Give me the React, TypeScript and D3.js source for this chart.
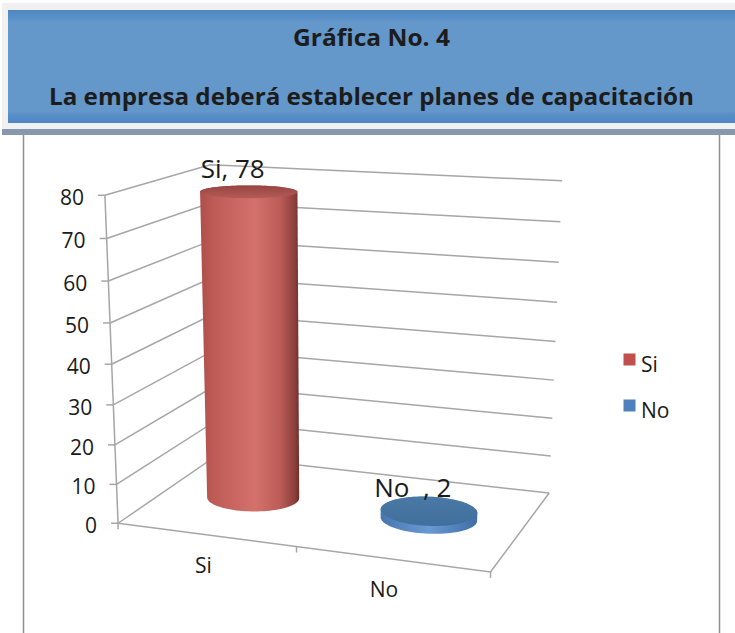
import React from "react";
import * as d3 from "d3";

// chart data
const categories = ["Si", "No  "];
const values = [78, 2];
const legendLabels = ["Si", "No"];
const yTicks = [0, 10, 20, 30, 40, 50, 60, 70, 80];
const titleLines = ["Gráfica No. 4", "La empresa deberá establecer planes de capacitación"];

const W = 735;
const H = 633;
const FONT = "'Open Sans', 'DejaVu Sans', sans-serif";

// 3D frame: world x in band units (0..2), y as fraction of value axis, z depth (front 0 .. back DEPTH)
const DEPTH = 1.4;
const RADIUS = 0.255;
// where the frame corners land on screen (layout calibration)
const frameRefs: number[][] = [
  [0, 1, 0, 105, 195],
  [0, 0, 0, 118, 523],
  [0, 1, DEPTH, 210, 165],
  [2, 1, DEPTH, 562, 181],
  [2, 0.5, DEPTH, 556, 341],
  [2, 0, DEPTH, 549, 493],
  [2, 0, 0, 490, 572],
  [1, 0, 0, 297, 547],
];

// least squares fit of a 3x4 perspective matrix to the frame corners
function solveProjection(refs: number[][]) {
  const A: number[][] = [];
  const b: number[] = [];
  for (const [X, Y, Z, u, v] of refs) {
    A.push([X, Y, Z, 1, 0, 0, 0, 0, -u * X, -u * Y, -u * Z]);
    b.push(u);
    A.push([0, 0, 0, 0, X, Y, Z, 1, -v * X, -v * Y, -v * Z]);
    b.push(v);
  }
  const n = 11;
  const M = d3.range(n).map((i) => {
    const row = new Array(n + 1).fill(0);
    for (let k = 0; k < A.length; k++) {
      for (let j = 0; j < n; j++) row[j] += A[k][i] * A[k][j];
      row[n] += A[k][i] * b[k];
    }
    return row;
  });
  for (let c = 0; c < n; c++) {
    let p = c;
    for (let r = c + 1; r < n; r++) if (Math.abs(M[r][c]) > Math.abs(M[p][c])) p = r;
    [M[c], M[p]] = [M[p], M[c]];
    for (let r = 0; r < n; r++) {
      if (r === c) continue;
      const f = M[r][c] / M[c][c];
      for (let k = c; k <= n; k++) M[r][k] -= f * M[c][k];
    }
  }
  return M.map((row, i) => row[n] / row[i]);
}

const P = solveProjection(frameRefs);
const project = (X: number, Y: number, Z: number): [number, number] => {
  const w = P[8] * X + P[9] * Y + P[10] * Z + 1;
  return [(P[0] * X + P[1] * Y + P[2] * Z + P[3]) / w, (P[4] * X + P[5] * Y + P[6] * Z + P[7]) / w];
};

const xScale = d3.scaleBand<string>().domain(categories).range([0, 2]).padding(0);
const yScale = d3.scaleLinear().domain([0, 80]).range([0, 1]);
const colorScale = d3.scaleOrdinal<string, string>().domain(categories).range(["#c0504d", "#4f81bd"]);

const line = (pts: [number, number][]) => "M" + pts.map((p) => p.join(",")).join("L");
const closed = (pts: [number, number][]) => line(pts) + "Z";

const angles = d3.range(0, 2 * Math.PI, Math.PI / 48);
const ring = (cx: number, cz: number, y: number) =>
  angles.map((a) => project(cx + RADIUS * Math.cos(a), y, cz + RADIUS * Math.sin(a)));

function Cylinder({ cat, value, i }: { cat: string; value: number; i: number }) {
  const cx = xScale(cat)! + xScale.bandwidth() / 2;
  const cz = DEPTH / 2;
  const bottomRing = ring(cx, cz, 0);
  const topRing = ring(cx, cz, yScale(value));
  // silhouette of a cylinder = hull of its two end circles
  const hull = d3.polygonHull([...bottomRing, ...topRing])!;
  return (
    <g>
      <path d={closed(hull)} fill={`url(#body-${i})`} />
      <path d={closed(topRing)} fill={`url(#cap-${i})`} />
    </g>
  );
}

export default function App() {
  const gridColor = "#a6a6a6";
  const [ax0, ay0] = project(0, 0, 0);
  const [ax1, ay1] = project(0, 1, 0);
  const bandEdges = [...categories.map((c) => xScale(c)!), xScale.range()[1]];

  return (
    <svg width={W} height={H} style={{ position: "absolute", left: 0, top: 0, background: "#fff" }} fontFamily={FONT}>
      <defs>
        <linearGradient id="header" x1="0" x2="0" y1="0" y2="1">
          <stop offset="0" stopColor="#4e87c3" />
          <stop offset="0.08" stopColor="#5a90c8" />
          <stop offset="0.1" stopColor="#6497ca" />
          <stop offset="0.9" stopColor="#6497ca" />
          <stop offset="0.92" stopColor="#5a8fc7" />
          <stop offset="1" stopColor="#4e87c3" />
        </linearGradient>
        <linearGradient id="body-0" x1="0" x2="1" y1="0" y2="0">
          <stop offset="0" stopColor="#ad4f4b" />
          <stop offset="0.15" stopColor="#c05c57" />
          <stop offset="0.55" stopColor="#d4716c" />
          <stop offset="0.8" stopColor="#bd5d58" />
          <stop offset="0.95" stopColor="#8e403d" />
          <stop offset="1" stopColor="#6e2f2d" />
        </linearGradient>
        <linearGradient id="cap-0" x1="0" x2="0" y1="0" y2="1">
          <stop offset="0" stopColor="#964542" />
          <stop offset="1" stopColor="#b45b56" />
        </linearGradient>
        <linearGradient id="body-1" x1="0" x2="1" y1="0" y2="0">
          <stop offset="0" stopColor="#4877b0" />
          <stop offset="0.5" stopColor="#6a9ad3" />
          <stop offset="1" stopColor="#3f6ea6" />
        </linearGradient>
        <linearGradient id="cap-1" x1="0" x2="0" y1="0" y2="1">
          <stop offset="0" stopColor="#4a79a6" />
          <stop offset="1" stopColor="#416f9c" />
        </linearGradient>
      </defs>

      {/* panel frame */}
      <line x1={23.5} x2={23.5} y1={134} y2={H} stroke="#8e8e8e" strokeWidth={1.5} />
      <line x1={719.5} x2={719.5} y1={134} y2={H} stroke="#8e8e8e" strokeWidth={1.5} />

      {/* walls: gridlines */}
      {yTicks.map((t) => {
        const y = yScale(t);
        return (
          <path
            key={`grid-${t}`}
            d={line([project(0, y, 0), project(0, y, DEPTH), project(2, y, DEPTH)])}
            fill="none"
            stroke={gridColor}
            strokeWidth={1.5}
          />
        );
      })}

      {/* floor edges */}
      <path d={line([project(0, 0, 0), project(2, 0, 0), project(2, 0, DEPTH)])} fill="none" stroke={gridColor} strokeWidth={1.5} />

      {/* value axis */}
      <line x1={ax0} y1={ay0} x2={ax1} y2={ay1} stroke={gridColor} strokeWidth={1.5} />
      {yTicks.map((t) => {
        const [px, py] = project(0, yScale(t), 0);
        return (
          <g key={`tick-${t}`}>
            <line x1={px - 7} x2={px} y1={py} y2={py} stroke={gridColor} strokeWidth={1.5} />
            <text x={px - 21} y={py + 10} textAnchor="end" fontSize={21} fill="#1a1a1a">
              {t}
            </text>
          </g>
        );
      })}

      {/* category axis */}
      {bandEdges.map((e) => {
        const [px, py] = project(e, 0, 0);
        return <line key={`ct-${e}`} x1={px} x2={px} y1={py} y2={py + 6} stroke={gridColor} strokeWidth={1.5} />;
      })}
      {categories.map((c) => {
        const [px, py] = project(xScale(c)! + xScale.bandwidth() / 2, 0, 0);
        return (
          <text key={`cl-${c}`} x={px - 2} y={py + 38} textAnchor="middle" fontSize={21} fill="#1a1a1a" style={{ whiteSpace: "pre" }}>
            {c}
          </text>
        );
      })}

      {/* bars */}
      {categories.map((c, i) => (
        <Cylinder key={`bar-${c}`} cat={c} value={values[i]} i={i} />
      ))}

      {/* data labels */}
      {categories.map((c, i) => {
        const [px, py] = project(xScale(c)! + xScale.bandwidth() / 2, yScale(values[i]), DEPTH / 2);
        return (
          <text key={`dl-${c}`} x={px - 16} y={py - 14} textAnchor="middle" fontSize={26} fill="#1a1a1a" style={{ whiteSpace: "pre" }}>
            {`${c}, ${values[i]}`}
          </text>
        );
      })}

      {/* legend */}
      {legendLabels.map((l, i) => (
        <g key={`lg-${l}`} transform={`translate(623.5, ${353.5 + i * 46})`}>
          <rect width={12} height={12} fill={colorScale(categories[i])} />
          <text x={17.5} y={18} fontSize={21} fill="#1a1a1a">
            {l}
          </text>
        </g>
      ))}

      {/* header */}
      <rect x={2} y={3} width={W} height={127} fill="#f1f1f1" />
      <rect x={8} y={10} width={W} height={113} fill="url(#header)" />
      <rect x={2} y={129} width={W} height={6} fill="#8797b0" />
      <text x={371.5} y={46} textAnchor="middle" fontSize={23} fontWeight="bold" fill="#1c1c1c" textLength={157} lengthAdjust="spacingAndGlyphs">
        {titleLines[0]}
      </text>
      <text x={371.5} y={105} textAnchor="middle" fontSize={23} fontWeight="bold" fill="#1c1c1c" textLength={645} lengthAdjust="spacingAndGlyphs">
        {titleLines[1]}
      </text>
    </svg>
  );
}
